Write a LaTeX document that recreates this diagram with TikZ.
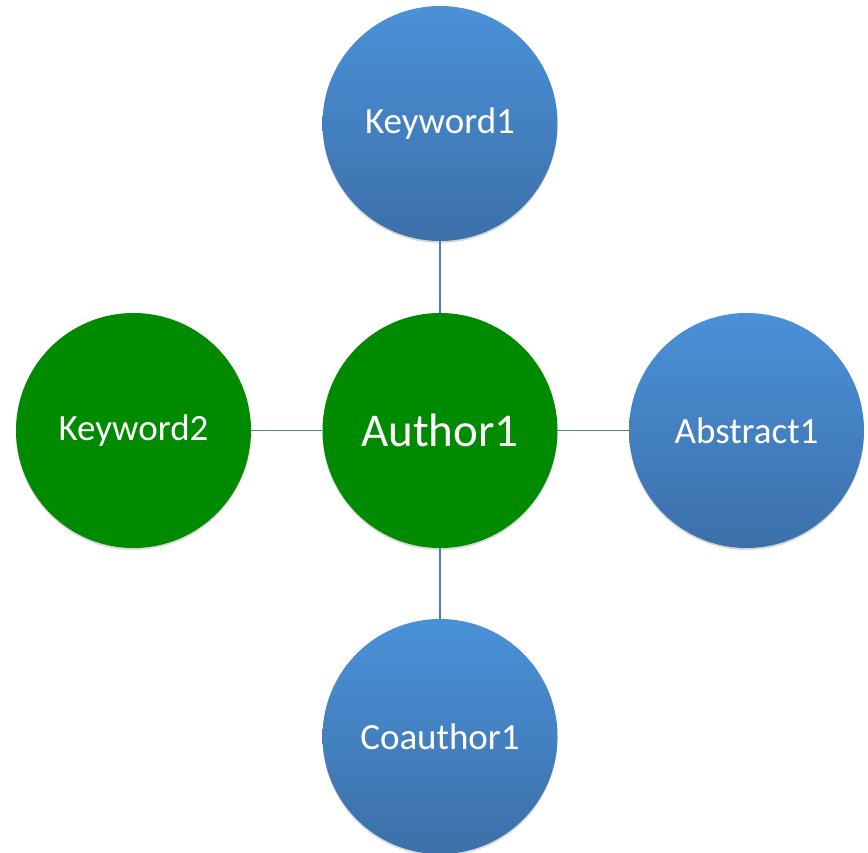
\documentclass[tikz,border=0pt]{standalone}
\usepackage{fontspec}
\setmainfont{Carlito}
\usetikzlibrary{shadows}
\tikzset{
  bubble/.style={circle, minimum size=235pt, inner sep=0pt, text=white,
    font=\fontsize{37}{42}\selectfont,
    drop shadow={shadow xshift=0pt, shadow yshift=-2pt, opacity=0.15, fill=black}},
  bluebubble/.style={bubble, top color=blueTop, bottom color=blueBot},
  greenbubble/.style={bubble, fill=nodeGreen},
  link/.style={draw=linkBlue, line width=1.3pt}
}
\definecolor{blueTop}{HTML}{4A91D8}
\definecolor{blueBot}{HTML}{3C70A9}
\definecolor{nodeGreen}{HTML}{008A00}
\definecolor{linkBlue}{HTML}{4A7EBB}
\begin{document}
\begin{tikzpicture}[x=1pt,y=-1pt]
  \useasboundingbox (0,0) rectangle (868,853);
  \node[greenbubble, font=\fontsize{47}{52}\selectfont] (author) at (440,430.5) {Author1};
  \node[bluebubble] (kw1) at (440,123.5) {Keyword1};
  \node[greenbubble] (kw2) at (133.5,430.5) {Keyword2};
  \node[bluebubble] (abs) at (746.5,430.5) {Abstract1};
  \node[bluebubble] (coa) at (440,736.5) {Coauthor1};
  \draw[link] (author) -- (kw1);
  \draw[link] (author) -- (kw2);
  \draw[link] (author) -- (abs);
  \draw[link] (author) -- (coa);
\end{tikzpicture}
\end{document}
